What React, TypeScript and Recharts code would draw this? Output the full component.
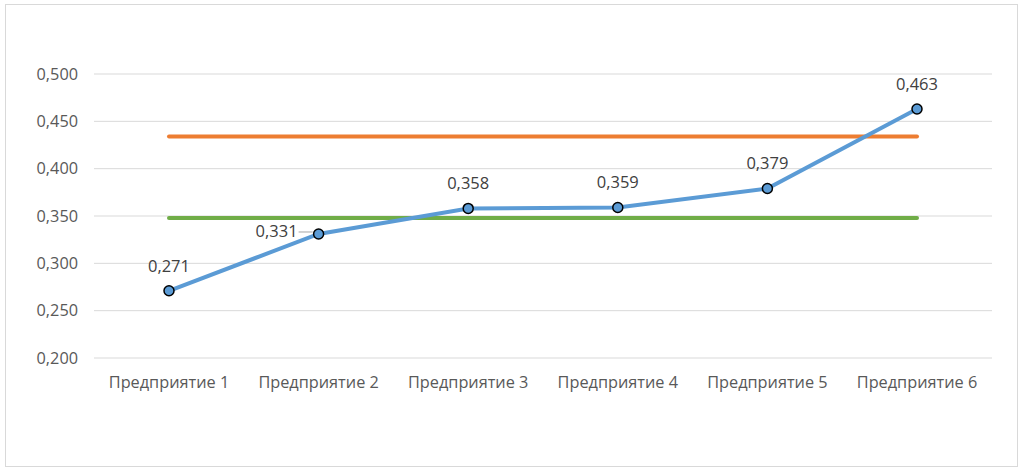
import { LineChart, Line, XAxis, YAxis, CartesianGrid } from "recharts";

const categories = ["Предприятие 1", "Предприятие 2", "Предприятие 3", "Предприятие 4", "Предприятие 5", "Предприятие 6"];
const values = [0.271, 0.331, 0.358, 0.359, 0.379, 0.463];
const upperLevel = [0.434, 0.434, 0.434, 0.434, 0.434, 0.434];
const lowerLevel = [0.348, 0.348, 0.348, 0.348, 0.348, 0.348];
const yTicks = [0.2, 0.25, 0.3, 0.35, 0.4, 0.45, 0.5];

const data = categories.map((name, i) => ({
  name,
  value: values[i],
  upper: upperLevel[i],
  lower: lowerLevel[i],
}));

const font = "'Open Sans', sans-serif";
const fmt = (v: number) => v.toFixed(3).replace(".", ",");

function ValueLabel(props: any) {
  const { x, y, value, index } = props;
  if (index === 1) {
    // label sits to the left of the point with a small leader line
    return (
      <g>
        <line x1={x - 20} y1={y - 2} x2={x - 6} y2={y - 2} stroke="#a6a6a6" strokeWidth={1} />
        <text x={x - 21} y={y - 3} dy="0.35em" textAnchor="end" fontSize={16.5} fill="#404040" fontFamily={font}>
          {fmt(value)}
        </text>
      </g>
    );
  }
  return (
    <text x={x} y={y - 25} dy="0.35em" textAnchor="middle" fontSize={16.5} fill="#404040" fontFamily={font}>
      {fmt(value)}
    </text>
  );
}

export default function App() {
  return (
    <div style={{ position: "absolute", left: 0, top: 0, width: 1023, height: 471, background: "#fff" }}>
      <div
        style={{
          position: "absolute",
          left: 5,
          top: 4,
          width: 1011,
          height: 461,
          border: "1.5px solid #d9d9d9",
        }}
      />
      <div style={{ position: "absolute", left: 0, top: 0 }}>
        <LineChart width={1023} height={471} data={data} margin={{ top: 74, right: 31, bottom: 63, left: 0 }}>
          <CartesianGrid vertical={false} stroke="#d9d9d9" strokeWidth={1} />
          <XAxis
            dataKey="name"
            axisLine={false}
            tickLine={false}
            padding={{ left: 75, right: 75 }}
            height={50}
            tickMargin={12}
            interval={0}
            tick={{ fontSize: 16.3, fill: "#595959", fontFamily: font }}
          />
          <YAxis
            domain={[0.2, 0.5]}
            ticks={yTicks}
            width={94}
            axisLine={false}
            tickLine={false}
            tickMargin={10}
            tickFormatter={fmt}
            tick={{ fontSize: 16.3, fill: "#595959", fontFamily: font }}
          />
          <Line dataKey="upper" stroke="#ed7d31" strokeWidth={4} strokeLinecap="round" dot={false} isAnimationActive={false} />
          <Line dataKey="lower" stroke="#70ad47" strokeWidth={4} strokeLinecap="round" dot={false} isAnimationActive={false} />
          <Line
            dataKey="value"
            stroke="#5b9bd5"
            strokeWidth={4}
            strokeLinecap="round"
            dot={{ r: 5, fill: "#5b9bd5", stroke: "#000", strokeWidth: 1.5 }}
            label={<ValueLabel />}
            isAnimationActive={false}
          />
        </LineChart>
      </div>
    </div>
  );
}
